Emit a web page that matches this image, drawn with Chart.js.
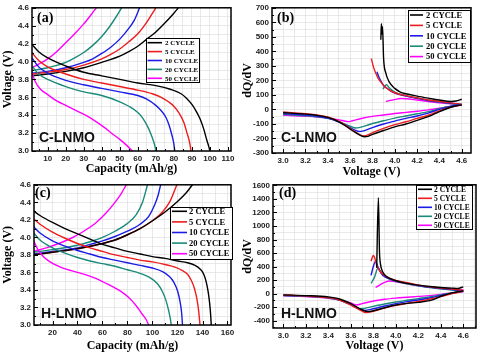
<!DOCTYPE html>
<html lang="en">
<head>
<meta charset="UTF-8">
<title>LNMO charge/discharge and dQ/dV</title>
<script src="https://cdn.jsdelivr.net/npm/chart.js"></script>
<style>
  body { margin: 0; background: #fff; }
  #wrap { position: relative; width: 480px; height: 354px; overflow: hidden; }
  canvas { position: absolute; }
</style>
</head>
<body>
<div id="wrap">
  <canvas id="chA" width="240" height="177" style="left:0;top:0"></canvas>
  <canvas id="chB" width="240" height="180" style="left:240px;top:0"></canvas>
  <canvas id="chC" width="240" height="177" style="left:0;top:177px"></canvas>
  <canvas id="chD" width="240" height="177" style="left:240px;top:177px"></canvas>
</div>
<script>
const cycles = ['2 CYCLE', '5 CYCLE', '10 CYCLE', '20 CYCLE', '50 CYCLE'];
const cycleColors = ['#000000', '#ee1c1c', '#1c1ce6', '#1a8a7a', '#ff00ff'];

// tick labels
const capTicksA = [10, 20, 30, 40, 50, 60, 70, 80, 90, 100, 110];
const capTicksC = [20, 40, 60, 80, 100, 120, 140, 160];
const voltTicks = [3.0, 3.2, 3.4, 3.6, 3.8, 4.0, 4.2, 4.4, 4.6];
const dqdvTicksB = [-300, -200, -100, 0, 100, 200, 300, 400, 500, 600, 700];
const dqdvTicksD = [-400, -200, 0, 200, 400, 600, 800, 1000, 1200, 1400, 1600];

// (a) C-LNMO, [capacity mAh/g, voltage V], one list per cycle
const aCharge = [
  [[1.3,3.84],[10,3.86],[20,3.89],[30,3.93],[40,3.99],[50,4.06],[55,4.11],[60,4.17],[65,4.25],[70,4.33],[75,4.43],[80,4.54],[82.5,4.6]],
  [[1.3,3.86],[10,3.88],[20,3.91],[30,3.96],[40,4.03],[45,4.08],[50,4.14],[55,4.22],[60,4.31],[65,4.44],[70,4.6]],
  [[1.3,3.87],[10,3.89],[20,3.93],[30,3.99],[35,4.03],[40,4.09],[45,4.16],[50,4.25],[55,4.37],[58,4.46],[61,4.6]],
  [[1.3,3.90],[10,3.93],[20,3.99],[25,4.04],[30,4.10],[35,4.18],[40,4.28],[44,4.38],[48,4.5],[51,4.6]],
  [[1.3,3.93],[5,3.97],[10,4.03],[15,4.11],[20,4.21],[25,4.31],[30,4.42],[34,4.52],[37,4.6]]
];
const aDischarge = [
  [[1.3,4.19],[5,4.11],[10,4.04],[20,3.95],[30,3.88],[40,3.84],[50,3.80],[60,3.76],[70,3.73],[78,3.69],[84,3.64],[87,3.59],[90,3.52],[92.5,3.44],[94.5,3.36],[96.5,3.25],[98.3,3.12],[99.5,3.04],[100,3.0]],
  [[1.3,4.10],[5,4.01],[10,3.94],[20,3.86],[30,3.80],[40,3.76],[50,3.72],[60,3.68],[68,3.64],[73,3.60],[77,3.55],[80,3.50],[83,3.42],[85.5,3.32],[87.3,3.2],[88.7,3.1],[89.5,3.0]],
  [[1.3,4.04],[5,3.94],[10,3.87],[20,3.79],[30,3.74],[40,3.70],[50,3.66],[60,3.62],[65,3.58],[70,3.51],[73,3.45],[75.5,3.38],[77.5,3.28],[79,3.17],[80,3.08],[80.5,3.0]],
  [[1.3,3.95],[5,3.86],[10,3.80],[20,3.72],[30,3.66],[40,3.62],[50,3.55],[55,3.50],[60,3.43],[63,3.36],[66,3.25],[68,3.15],[69.3,3.07],[70,3.0]],
  [[1.3,3.88],[3,3.78],[6,3.69],[10,3.63],[15,3.56],[20,3.51],[25,3.46],[31,3.40],[36,3.34],[41,3.27],[46,3.19],[50,3.13],[54,3.06],[57,3.0]]
];

// (b) C-LNMO dQ/dV, [voltage V, dQ/dV]
const bCharge = [
  [[3.875,480],[3.88,590],[3.885,520],[3.89,570],[3.90,350],[3.92,250],[3.95,190],[4.0,145],[4.05,120],[4.1,108],[4.2,92],[4.3,78],[4.4,65],[4.5,55],[4.55,58],[4.6,70]],
  [[3.79,350],[3.81,290],[3.83,250],[3.85,215],[3.88,185],[3.9,165],[3.95,135],[4.0,115],[4.1,95],[4.2,80],[4.3,65],[4.4,55],[4.5,45],[4.6,35]],
  [[3.84,260],[3.86,220],[3.88,190],[3.9,165],[3.95,135],[4.0,113],[4.1,92],[4.2,77],[4.3,62],[4.4,52],[4.5,43],[4.6,35]],
  [[3.895,140],[3.91,160],[3.925,170],[3.95,150],[4.0,120],[4.1,95],[4.2,78],[4.3,62],[4.4,50],[4.5,40],[4.6,33]],
  [[3.92,55],[3.96,62],[4.0,68],[4.05,75],[4.1,74],[4.2,65],[4.3,55],[4.4,45],[4.5,38],[4.6,33]]
];
const bDischarge = [
  [[3.0,-22],[3.1,-27],[3.2,-32],[3.3,-40],[3.4,-55],[3.5,-85],[3.6,-135],[3.65,-160],[3.7,-182],[3.73,-188],[3.76,-185],[3.8,-172],[3.9,-145],[4.0,-120],[4.1,-100],[4.2,-75],[4.3,-50],[4.4,-15],[4.5,15],[4.55,25],[4.6,30]],
  [[3.0,-18],[3.1,-24],[3.2,-30],[3.3,-38],[3.4,-52],[3.5,-82],[3.6,-130],[3.65,-158],[3.7,-178],[3.72,-182],[3.76,-175],[3.8,-160],[3.9,-130],[4.0,-105],[4.1,-85],[4.2,-62],[4.3,-40],[4.4,-10],[4.5,15],[4.6,32]],
  [[3.0,-28],[3.1,-33],[3.2,-38],[3.3,-46],[3.4,-60],[3.5,-88],[3.6,-125],[3.65,-145],[3.68,-152],[3.72,-148],[3.8,-125],[3.9,-100],[4.0,-80],[4.1,-62],[4.2,-45],[4.3,-25],[4.4,0],[4.5,20],[4.6,35]],
  [[3.0,-34],[3.1,-38],[3.2,-43],[3.3,-50],[3.4,-62],[3.5,-85],[3.6,-115],[3.65,-128],[3.68,-125],[3.75,-110],[3.8,-97],[3.9,-78],[4.0,-60],[4.1,-45],[4.2,-30],[4.3,-15],[4.4,5],[4.5,22],[4.6,35]],
  [[3.0,-40],[3.1,-43],[3.2,-47],[3.3,-52],[3.4,-60],[3.5,-72],[3.55,-80],[3.58,-84],[3.62,-78],[3.7,-62],[3.8,-48],[3.9,-38],[4.0,-28],[4.1,-20],[4.2,-12],[4.3,-3],[4.4,8],[4.5,20],[4.6,30]]
];

// (c) H-LNMO, [capacity mAh/g, voltage V]
const cCharge = [
  [[5,3.80],[20,3.83],[40,3.87],[60,3.93],[70,3.97],[80,4.03],[90,4.10],[100,4.19],[110,4.29],[120,4.41],[127,4.51],[132,4.6]],
  [[5,3.80],[20,3.83],[40,3.87],[60,3.93],[70,3.97],[80,4.03],[90,4.10],[100,4.19],[108,4.29],[114,4.41],[119.5,4.6]],
  [[5,3.81],[20,3.84],[40,3.88],[50,3.92],[60,3.96],[70,4.01],[80,4.07],[90,4.15],[97,4.24],[102,4.38],[104.5,4.48],[106.5,4.6]],
  [[5,3.83],[20,3.86],[40,3.91],[50,3.95],[60,4.0],[70,4.07],[80,4.16],[87,4.26],[92,4.4],[96,4.6]],
  [[5,3.84],[15,3.88],[25,3.93],[35,3.99],[45,4.07],[55,4.17],[63,4.28],[70,4.40],[75,4.50],[79,4.6]]
];
const cDischarge = [
  [[5,4.30],[10,4.25],[20,4.17],[30,4.10],[40,4.04],[50,3.98],[60,3.92],[70,3.88],[80,3.84],[90,3.81],[100,3.78],[110,3.76],[120,3.73],[128,3.71],[134,3.68],[138,3.64],[141,3.58],[143,3.49],[144.5,3.38],[145.7,3.25],[146.5,3.12],[147,3.0]],
  [[5,4.21],[10,4.15],[20,4.06],[30,3.99],[40,3.93],[50,3.88],[60,3.84],[70,3.80],[80,3.77],[90,3.74],[100,3.72],[110,3.69],[118,3.66],[124,3.62],[128,3.58],[131,3.51],[133.5,3.42],[135.5,3.30],[137,3.15],[138,3.0]],
  [[5,4.12],[10,4.05],[20,3.96],[30,3.90],[40,3.85],[50,3.81],[60,3.77],[70,3.74],[80,3.71],[90,3.68],[100,3.65],[108,3.61],[113,3.56],[117,3.49],[120,3.39],[122,3.27],[123.3,3.14],[124,3.0]],
  [[5,4.05],[10,3.97],[20,3.88],[30,3.82],[40,3.77],[50,3.73],[60,3.70],[70,3.67],[80,3.63],[90,3.59],[98,3.54],[104,3.47],[108,3.38],[111,3.27],[113,3.16],[114.3,3.07],[115,3.0]],
  [[5,3.96],[8,3.87],[12,3.79],[18,3.72],[25,3.67],[35,3.62],[45,3.58],[55,3.53],[65,3.46],[75,3.38],[82,3.30],[88,3.20],[92,3.12],[95,3.06],[97,3.0]]
];

// (d) H-LNMO dQ/dV, [voltage V, dQ/dV]
const dCharge = [
  [[3.83,380],[3.845,1420],[3.855,600],[3.86,480],[3.87,380],[3.9,280],[3.95,220],[4.0,190],[4.1,150],[4.2,125],[4.3,105],[4.4,90],[4.5,80],[4.55,75],[4.6,100]],
  [[3.78,480],[3.80,565],[3.81,540],[3.83,420],[3.86,330],[3.9,270],[3.95,225],[4.0,195],[4.1,160],[4.2,125],[4.3,100],[4.4,80],[4.5,65],[4.6,45]],
  [[3.78,270],[3.80,400],[3.82,480],[3.84,400],[3.87,300],[3.9,250],[3.95,215],[4.0,190],[4.1,155],[4.2,120],[4.3,95],[4.4,75],[4.5,58],[4.6,40]],
  [[3.78,150],[3.81,240],[3.84,370],[3.87,320],[3.9,260],[3.95,210],[4.0,180],[4.1,145],[4.2,115],[4.3,90],[4.4,70],[4.5,52],[4.6,35]],
  [[3.82,90],[3.86,130],[3.9,165],[3.95,185],[4.0,175],[4.1,145],[4.2,115],[4.3,95],[4.4,80],[4.5,65],[4.6,55]]
];
const dDischarge = [
  [[3.0,-20],[3.2,-30],[3.4,-50],[3.5,-80],[3.6,-150],[3.7,-240],[3.75,-268],[3.8,-255],[3.9,-210],[4.0,-170],[4.1,-145],[4.2,-130],[4.3,-105],[4.35,-80],[4.4,-40],[4.5,10],[4.6,40]],
  [[3.0,-20],[3.2,-35],[3.4,-60],[3.5,-95],[3.6,-170],[3.7,-260],[3.73,-280],[3.78,-270],[3.9,-215],[4.0,-175],[4.1,-145],[4.2,-118],[4.3,-85],[4.4,-45],[4.5,0],[4.6,35]],
  [[3.0,-25],[3.2,-38],[3.4,-60],[3.5,-95],[3.6,-165],[3.7,-245],[3.72,-250],[3.8,-225],[3.9,-185],[4.0,-150],[4.1,-120],[4.2,-95],[4.3,-65],[4.4,-30],[4.5,5],[4.6,35]],
  [[3.0,-30],[3.2,-42],[3.4,-65],[3.5,-95],[3.6,-160],[3.68,-228],[3.72,-220],[3.8,-190],[3.9,-155],[4.0,-125],[4.1,-100],[4.2,-75],[4.3,-50],[4.4,-20],[4.5,10],[4.6,35]],
  [[3.0,-35],[3.2,-45],[3.4,-70],[3.5,-95],[3.6,-140],[3.65,-170],[3.7,-150],[3.8,-110],[3.9,-85],[4.0,-68],[4.1,-55],[4.2,-42],[4.3,-30],[4.4,-12],[4.5,10],[4.6,30]]
];

Chart.defaults.animation = false;
Chart.defaults.font.family = 'Liberation Sans';

const tickFont = { family: 'Liberation Sans', size: 8, weight: 'bold' };
const titleFont = { family: 'Liberation Serif', size: 12, weight: 'bold' };

function buildDatasets(groups) {
  const ds = [];
  groups.forEach(group => group.forEach((pts, i) => {
    ds.push({
      label: cycles[i],
      data: pts.map(p => ({ x: p[0], y: p[1] })),
      borderColor: cycleColors[i],
      borderWidth: 1.4,
      pointRadius: 0,
      showLine: true,
      fill: false,
      cubicInterpolationMode: 'monotone'
    });
  }));
  return ds;
}

// majors plus half-step minors (for grid and small tick marks)
function withMinors(majors, min, max) {
  const step = majors[1] - majors[0];
  const out = [majors[0] - step / 2];
  majors.forEach(v => { out.push(v); out.push(v + step / 2); });
  return out.filter(v => v >= min - 1e-9 && v <= max + 1e-9);
}

function axis(o) {
  const all = withMinors(o.majors, o.min, o.max);
  const isMajor = v => o.majors.some(m => Math.abs(m - v) < 1e-6);
  return {
    type: 'linear',
    min: o.min, max: o.max,
    afterBuildTicks: s => { s.ticks = all.map(v => ({ value: v })); },
    afterFit: s => { if (o.size.w) s.width = o.size.w; if (o.size.h) s.height = o.size.h; },
    grid: { color: '#e0e0e0', lineWidth: 0.7, drawTicks: false },
    border: { display: false },
    ticks: {
      autoSkip: false, maxRotation: 0, padding: 3,
      color: '#222', font: tickFont,
      callback: v => isMajor(v) ? o.fmt(v) : ''
    },
    title: { display: true, text: o.title, color: '#000', font: titleFont, padding: { top: 1, bottom: 1 } }
  };
}

function deco(cfg) {
  return {
    id: 'deco',
    afterDatasetsDraw(chart) {
      const { ctx, chartArea: a, scales: { x, y } } = chart;
      ctx.save();
      // inward tick marks on bottom and left
      ctx.strokeStyle = '#000';
      ctx.lineWidth = 1;
      ctx.beginPath();
      x.ticks.forEach(t => {
        const px = Math.round(x.getPixelForValue(t.value)) + 0.5;
        ctx.moveTo(px, a.bottom);
        ctx.lineTo(px, a.bottom - (t.label ? 4 : 2));
      });
      y.ticks.forEach(t => {
        const py = Math.round(y.getPixelForValue(t.value)) + 0.5;
        ctx.moveTo(a.left, py);
        ctx.lineTo(a.left + (t.label ? 4 : 2), py);
      });
      ctx.stroke();
      // frame
      ctx.lineWidth = 1.5;
      ctx.strokeRect(a.left, a.top, a.right - a.left, a.bottom - a.top);

      // legend box
      const L = cfg.legend;
      ctx.fillStyle = '#fff';
      ctx.fillRect(L.x, L.y, L.w, L.h);
      ctx.lineWidth = 1;
      ctx.strokeStyle = '#000';
      ctx.strokeRect(L.x + 0.5, L.y + 0.5, L.w, L.h);
      ctx.font = 'bold ' + L.size + 'px "Liberation Serif"';
      ctx.textBaseline = 'middle';
      ctx.textAlign = 'left';
      cycles.forEach((name, i) => {
        const yy = L.row0 + i * L.dy;
        ctx.strokeStyle = cycleColors[i];
        ctx.lineWidth = 1.6;
        ctx.beginPath();
        ctx.moveTo(L.line[0], yy);
        ctx.lineTo(L.line[1], yy);
        ctx.stroke();
        ctx.fillStyle = '#000';
        ctx.fillText(name, L.tx, yy + 0.5);
      });

      // panel tag and sample name
      ctx.textBaseline = 'alphabetic';
      ctx.fillStyle = '#000';
      ctx.font = 'bold 14px "Liberation Serif"';
      ctx.fillText(cfg.tag, cfg.tagPos[0], cfg.tagPos[1]);
      ctx.fillStyle = '#111';
      ctx.font = 'bold 14px "Liberation Sans"';
      ctx.fillText(cfg.sample, cfg.samplePos[0], cfg.samplePos[1]);
      ctx.restore();
    }
  };
}

function makeChart(id, datasets, xAxis, yAxis, pad, cfg) {
  return new Chart(document.getElementById(id), {
    type: 'scatter',
    data: { datasets },
    options: {
      responsive: false,
      devicePixelRatio: 1,
      layout: { padding: { top: pad.top, right: pad.right, left: 0, bottom: 0 } },
      plugins: { legend: { display: false }, tooltip: { enabled: false } },
      scales: { x: xAxis, y: yAxis }
    },
    plugins: [deco(cfg)]
  });
}

const f1 = v => v.toFixed(1);
const f0 = v => String(Math.round(v));

makeChart('chA', buildDatasets([aDischarge, aCharge]),
  axis({ min: 1.3, max: 111.7, majors: capTicksA, fmt: f0, title: 'Capacity (mAh/g)', size: { h: 26 } }),
  axis({ min: 3.0, max: 4.6, majors: voltTicks, fmt: f1, title: 'Voltage (V)', size: { w: 32 } }),
  { top: 7, right: 9 },
  { tag: '(a)', tagPos: [37, 22], sample: 'C-LNMO', samplePos: [39, 142],
    legend: { x: 146, y: 38, w: 53, h: 44, row0: 42.7, dy: 8.9, line: [147.5, 162], tx: 165, size: 7 } });

makeChart('chB', buildDatasets([bDischarge, bCharge]),
  axis({ min: 2.9, max: 4.683, majors: voltTicks, fmt: f1, title: 'Voltage (V)', size: { h: 27 } }),
  axis({ min: -300, max: 700, majors: dqdvTicksB, fmt: f0, title: 'dQ/dV', size: { w: 32 } }),
  { top: 5.5, right: 9 },
  { tag: '(b)', tagPos: [37, 22], sample: 'C-LNMO', samplePos: [41, 142],
    legend: { x: 168, y: 10, w: 62, h: 52, row0: 15, dy: 10.4, line: [170, 183], tx: 186, size: 8.5 } });

makeChart('chC', buildDatasets([cDischarge, cCharge]),
  axis({ min: 5.2, max: 162.8, majors: capTicksC, fmt: f0, title: 'Capacity (mAh/g)', size: { h: 29 } }),
  axis({ min: 3.0, max: 4.6, majors: voltTicks, fmt: f1, title: 'Voltage (V)', size: { w: 34 } }),
  { top: 5, right: 9 },
  { tag: '(c)', tagPos: [35, 20], sample: 'H-LNMO', samplePos: [41, 141],
    legend: { x: 170, y: 30, w: 62, h: 52, row0: 34.3, dy: 10.6, line: [172, 187], tx: 189, size: 8.5 } });

makeChart('chD', buildDatasets([dDischarge, dCharge]),
  axis({ min: 2.908, max: 4.713, majors: voltTicks, fmt: f1, title: 'Voltage (V)', size: { h: 26 } }),
  axis({ min: -510, max: 1610, majors: dqdvTicksD, fmt: f0, title: 'dQ/dV', size: { w: 33 } }),
  { top: 5, right: 4 },
  { tag: '(d)', tagPos: [39, 20], sample: 'H-LNMO', samplePos: [41, 141],
    legend: { x: 176, y: 8, w: 56, h: 44, row0: 12.3, dy: 9, line: [178, 192], tx: 194, size: 7.5 } });
</script>
</body>
</html>
